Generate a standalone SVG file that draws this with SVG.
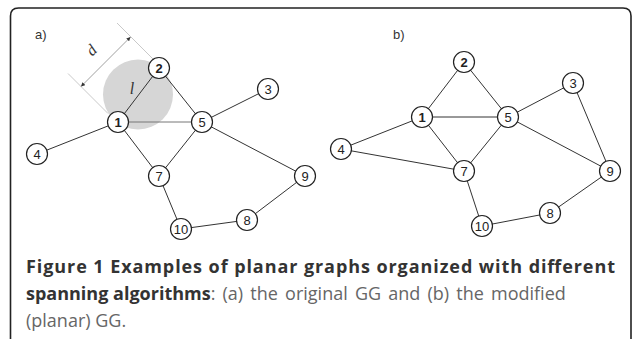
<svg xmlns="http://www.w3.org/2000/svg" width="632" height="339" viewBox="0 0 632 339">
  <style>
    .frame { fill: #ffffff; stroke: #222222; stroke-width: 1.6; }
    .edge { stroke: #333333; stroke-width: 1; fill: none; }
    .node circle { fill: #ffffff; stroke: #222222; stroke-width: 1.2; }
    .node text { font-family: "Liberation Sans", Arial, sans-serif; font-size: 13px; fill: #222222; text-anchor: middle; dominant-baseline: central; }
    .node.bold text { font-weight: bold; }
    .panel { font-family: "Liberation Sans", Arial, sans-serif; font-size: 13px; fill: #333333; }
    .ext { stroke: #bbbbbb; stroke-width: 0.8; }
    .dim { stroke: #888888; stroke-width: 0.8; }
    .math { font-family: "Liberation Serif", "Times New Roman", serif; font-style: italic; font-size: 16px; fill: #333333; }
    .cap { font-family: "Open Sans", sans-serif; font-size: 18px; }
    .capb { font-weight: bold; fill: #333333; }
    .capr { fill: #666666; }
  </style>
  <defs>
    <marker id="tick" viewBox="0 0 6 6" refX="6" refY="3" markerWidth="5" markerHeight="5" orient="auto-start-reverse">
      <path d="M0,0 L6,3 L0,6 z" fill="#333333"/>
    </marker>
  </defs>

  <!-- outer frame -->
  <path class="frame" d="M10.5,345 L10.5,16 Q10.5,8 18.5,8 L623,8 Q631,8 631,16 L631,345"/>

  <!-- panel labels -->
  <text class="panel" x="35" y="39">a)</text>
  <text class="panel" x="393" y="39">b)</text>

  <!-- transmission range of node 1 -->
  <circle cx="138" cy="94.5" r="35" fill="#d6d6d6"/>

  <!-- dimension marking for the range d -->
  <g id="range-dimension">
    <line class="ext" x1="68" y1="73.5" x2="108" y2="113.5"/>
    <line class="ext" x1="117" y1="23" x2="153" y2="59"/>
    <line class="dim" x1="81" y1="86.5" x2="130.5" y2="37" marker-start="url(#tick)" marker-end="url(#tick)"/>
    <text class="math" x="0" y="0" text-anchor="middle" transform="translate(95,54) rotate(-45)">d</text>
    <text class="math" x="132" y="94" text-anchor="middle">l</text>
  </g>

  <!-- connectors -->
  <g id="edges">
    <!-- panel a -->
    <line class="edge" x1="118" y1="122" x2="159" y2="68"/>
    <line class="edge" x1="159" y1="68" x2="202" y2="122"/>
    <line class="edge" x1="118" y1="122" x2="202" y2="122" style="stroke:#777777"/>
    <line class="edge" x1="202" y1="122" x2="268" y2="89"/>
    <line class="edge" x1="118" y1="122" x2="37" y2="154"/>
    <line class="edge" x1="118" y1="122" x2="159" y2="176"/>
    <line class="edge" x1="202" y1="122" x2="159" y2="176"/>
    <line class="edge" x1="202" y1="122" x2="305" y2="176"/>
    <line class="edge" x1="159" y1="176" x2="181" y2="229"/>
    <line class="edge" x1="181" y1="229" x2="247" y2="220"/>
    <line class="edge" x1="247" y1="220" x2="305" y2="176"/>
    <!-- panel b -->
    <line class="edge" x1="422" y1="117" x2="464" y2="62"/>
    <line class="edge" x1="464" y1="62" x2="508" y2="117"/>
    <line class="edge" x1="422" y1="117" x2="508" y2="117"/>
    <line class="edge" x1="508" y1="117" x2="573" y2="83"/>
    <line class="edge" x1="422" y1="117" x2="341" y2="149"/>
    <line class="edge" x1="341" y1="149" x2="464" y2="171"/>
    <line class="edge" x1="422" y1="117" x2="464" y2="171"/>
    <line class="edge" x1="508" y1="117" x2="464" y2="171"/>
    <line class="edge" x1="508" y1="117" x2="610" y2="171"/>
    <line class="edge" x1="573" y1="83" x2="610" y2="171"/>
    <line class="edge" x1="464" y1="171" x2="482" y2="226"/>
    <line class="edge" x1="482" y1="226" x2="550" y2="213"/>
    <line class="edge" x1="550" y1="213" x2="610" y2="171"/>
  </g>

  <!-- nodes, panel a -->
  <g id="a-n1" class="node bold"><circle cx="118" cy="122" r="10.5"/><text x="118" y="122">1</text></g>
  <g id="a-n2" class="node bold"><circle cx="159" cy="68" r="10.5"/><text x="159" y="68">2</text></g>
  <g id="a-n3" class="node"><circle cx="268" cy="89" r="10.5"/><text x="268" y="89">3</text></g>
  <g id="a-n4" class="node"><circle cx="37" cy="154" r="10.5"/><text x="37" y="154">4</text></g>
  <g id="a-n5" class="node"><circle cx="202" cy="122" r="10.5"/><text x="202" y="122">5</text></g>
  <g id="a-n7" class="node"><circle cx="159" cy="176" r="10.5"/><text x="159" y="176">7</text></g>
  <g id="a-n8" class="node"><circle cx="247" cy="220" r="10.5"/><text x="247" y="220">8</text></g>
  <g id="a-n9" class="node"><circle cx="305" cy="176" r="10.5"/><text x="305" y="176">9</text></g>
  <g id="a-n10" class="node"><circle cx="181" cy="229" r="10.5"/><text x="181" y="229">10</text></g>

  <!-- nodes, panel b -->
  <g id="b-n1" class="node bold"><circle cx="422" cy="117" r="10.5"/><text x="422" y="117">1</text></g>
  <g id="b-n2" class="node bold"><circle cx="464" cy="62" r="10.5"/><text x="464" y="62">2</text></g>
  <g id="b-n3" class="node"><circle cx="573" cy="83" r="10.5"/><text x="573" y="83">3</text></g>
  <g id="b-n4" class="node"><circle cx="341" cy="149" r="10.5"/><text x="341" y="149">4</text></g>
  <g id="b-n5" class="node"><circle cx="508" cy="117" r="10.5"/><text x="508" y="117">5</text></g>
  <g id="b-n7" class="node"><circle cx="464" cy="171" r="10.5"/><text x="464" y="171">7</text></g>
  <g id="b-n8" class="node"><circle cx="550" cy="213" r="10.5"/><text x="550" y="213">8</text></g>
  <g id="b-n9" class="node"><circle cx="610" cy="171" r="10.5"/><text x="610" y="171">9</text></g>
  <g id="b-n10" class="node"><circle cx="482" cy="226" r="10.5"/><text x="482" y="226">10</text></g>

  <!-- caption -->
  <g id="caption" class="cap">
    <text class="capb" x="26" y="273" textLength="589" lengthAdjust="spacing">Figure 1 Examples of planar graphs organized with different</text>
    <text x="26" y="300"><tspan class="capb">spanning algorithms</tspan><tspan class="capr" word-spacing="2.5">: (a) the original GG and (b) the modified</tspan></text>
    <text class="capr" x="26" y="326.5">(planar) GG.</text>
  </g>
</svg>
